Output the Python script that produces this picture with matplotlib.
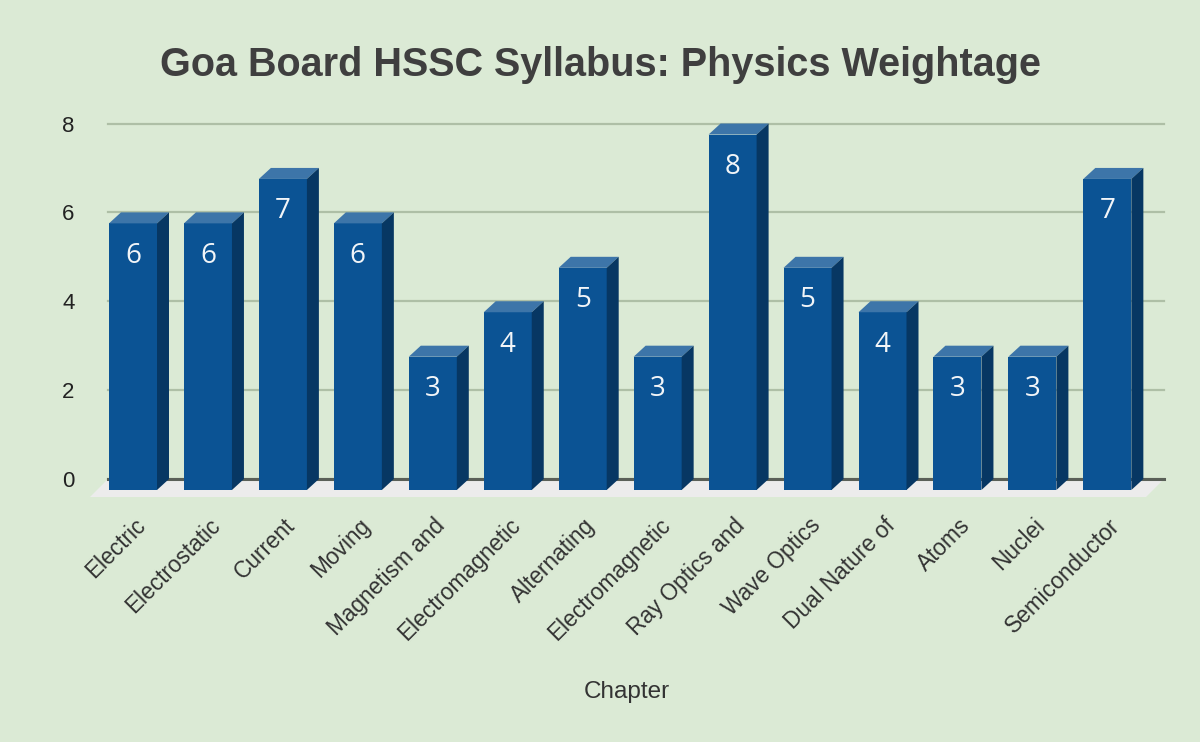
import matplotlib
matplotlib.use("Agg")
import matplotlib.pyplot as plt
from matplotlib.patches import Polygon
from matplotlib.transforms import ScaledTranslation

categories = ["Electric", "Electrostatic", "Current", "Moving", "Magnetism and",
              "Electromagnetic", "Alternating", "Electromagnetic", "Ray Optics and",
              "Wave Optics", "Dual Nature of", "Atoms", "Nuclei", "Semiconductor"]
values = [6, 6, 7, 6, 3, 4, 5, 3, 8, 5, 4, 3, 3, 7]
yticks = [0, 2, 4, 6, 8]
title = "Goa Board HSSC Syllabus: Physics Weightage"
xlabel = "Chapter"

BG = "#dbead5"
FRONT = "#0b5394"
TOP = "#3d75a9"
SIDE = "#073763"
TEXT = "#333333"
FONT = ["Liberation Sans", "DejaVu Sans"]

W, H = 1200, 742
L, R, T, B = 108, 1164, 123.5, 479
X0, XSTEP = 133, 74.95       # pixel centre of the first bar, pixel step
BAR_W = 48 / XSTEP

plt.rcParams["font.family"] = FONT
fig = plt.figure(figsize=(W / 100, H / 100), dpi=100, facecolor=BG)
ax = fig.add_axes([L / W, 1 - B / H, (R - L) / W, (B - T) / H], facecolor="none")
ax.set_xlim((L - X0) / XSTEP, (R - X0) / XSTEP)
ax.set_ylim(0, 8)

ystep = (B - T) / 8
dx = 12 / XSTEP     # depth offset of the 3D effect
dy = 11 / ystep
floor = 18 / ystep

ax.yaxis.grid(True, color="#aebfa6", linewidth=1.6, zorder=0)
for g in ax.yaxis.get_gridlines():
    g.set_clip_on(False)
ax.set_axisbelow(True)
for s in ["top", "left", "right"]:
    ax.spines[s].set_visible(False)
ax.spines["bottom"].set_color("#5a6058")
ax.spines["bottom"].set_linewidth(2.2)
ax.spines["bottom"].set_zorder(2)

# floor of the 3D plot
x_l, x_r = ax.get_xlim()
fdx = 18 / XSTEP
ax.add_patch(Polygon([(x_l - fdx, -floor), (x_l, 0), (x_r, 0), (x_r - fdx, -floor)],
                     closed=True, facecolor="#ececec", edgecolor="none",
                     clip_on=False, zorder=1.5))

for i, v in enumerate(values):
    left, right = i - BAR_W / 2, i + BAR_W / 2
    base, top = -dy, v - dy
    ax.bar(i, v, bottom=base, width=BAR_W, color=FRONT, linewidth=0, clip_on=False, zorder=3)
    ax.add_patch(Polygon([(left, top), (left + dx, top + dy), (right + dx, top + dy), (right, top)],
                         closed=True, facecolor=TOP, edgecolor="none", clip_on=False, zorder=3))
    ax.add_patch(Polygon([(right, base), (right + dx, base + dy), (right + dx, top + dy), (right, top)],
                         closed=True, facecolor=SIDE, edgecolor="none", clip_on=False, zorder=3))
    ax.annotate(str(v), (i, top), xytext=(0, -32.5 * 0.72), textcoords="offset points",
                ha="center", va="center", color="#f2f5f8", fontsize=20,
                family=["Open Sans", "DejaVu Sans"], zorder=4)

ax.set_yticks(yticks)
ax.tick_params(axis="y", length=0, pad=24, labelsize=16, labelcolor="#222222")
ax.set_xticks(range(len(categories)))
ax.set_xticklabels(categories, rotation=45, ha="right", va="top", rotation_mode="anchor",
                   fontsize=16.3, color=TEXT)
ax.tick_params(axis="x", length=0, pad=0)
shift = ScaledTranslation(1 / 100, -35 / 100, fig.dpi_scale_trans)
for lab in ax.get_xticklabels():
    lab.set_transform(lab.get_transform() + shift)

fig.text(627 / W, 1 - 692 / H, xlabel, ha="center", va="center", fontsize=17.5, color=TEXT)
fig.text(601 / W, 1 - 65 / H, title, ha="center", va="center", fontsize=28.5,
         fontweight="bold", color="#3f3f3f")

fig.savefig("out.png", dpi=100, facecolor=BG)
